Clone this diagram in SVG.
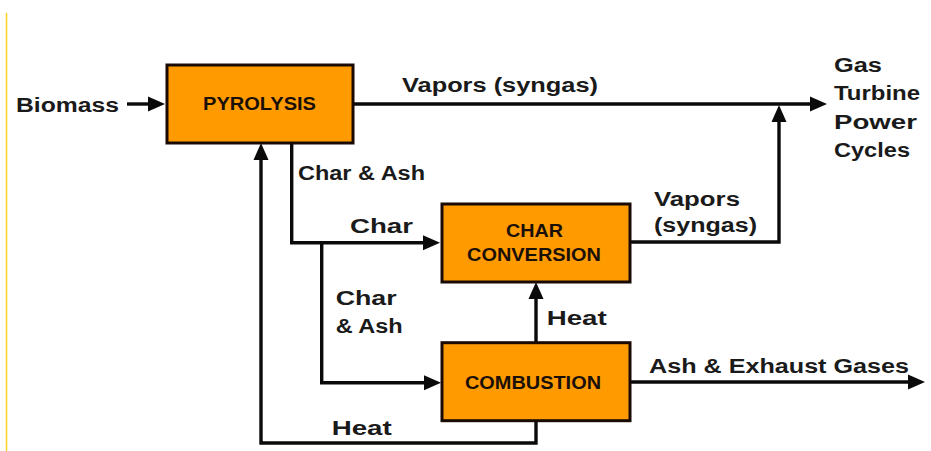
<svg xmlns="http://www.w3.org/2000/svg" width="931" height="451" viewBox="0 0 931 451">
  <style>
    .box { fill: #FF9A00; stroke: #1a0a05; stroke-width: 3; }
    .btxt { font-family: "Liberation Sans", Arial, sans-serif; font-weight: bold; font-size: 17.5px; fill: #1a1008; }
    .lbl { font-family: "Liberation Sans", Arial, sans-serif; font-weight: bold; font-size: 20px; fill: #1a1a1a; }
    .conn { fill: none; stroke: #0a0a0a; stroke-width: 3.4; }
  </style>
  <defs>
    <marker id="arr" markerUnits="userSpaceOnUse" markerWidth="20" markerHeight="16" refX="0" refY="8" orient="auto" overflow="visible">
      <path d="M0,0.5 L17,8 L0,15.5 z" fill="#0a0a0a"/>
    </marker>
  </defs>
  <rect width="931" height="451" fill="#ffffff"/>
  <line x1="6.5" y1="13" x2="6.5" y2="451" stroke="#FFD52E" stroke-width="1.6"/>

  <g id="connectors">
    <path class="conn" d="M127,104 H148" marker-end="url(#arr)"/>
    <path class="conn" d="M353,104 H810" marker-end="url(#arr)"/>
    <path class="conn" d="M291.7,143 V242.7 H423" marker-end="url(#arr)"/>
    <path class="conn" d="M321.7,242.7 V382.7 H424" marker-end="url(#arr)"/>
    <path class="conn" d="M630,242 H779 V122" marker-end="url(#arr)"/>
    <path class="conn" d="M536,342 V299" marker-end="url(#arr)"/>
    <path class="conn" d="M630,382 H908" marker-end="url(#arr)"/>
    <path class="conn" d="M536,421 V443 H261 V160" marker-end="url(#arr)"/>
  </g>

  <g id="labels">
    <text class="lbl" x="16" y="112" textLength="103" lengthAdjust="spacingAndGlyphs">Biomass</text>
    <text class="lbl" x="402" y="92" textLength="196" lengthAdjust="spacingAndGlyphs">Vapors (syngas)</text>
    <text class="lbl" x="834" y="72" textLength="48" lengthAdjust="spacingAndGlyphs">Gas</text>
    <text class="lbl" x="834" y="100" textLength="86" lengthAdjust="spacingAndGlyphs">Turbine</text>
    <text class="lbl" x="834" y="129" textLength="83" lengthAdjust="spacingAndGlyphs">Power</text>
    <text class="lbl" x="834" y="157" textLength="76" lengthAdjust="spacingAndGlyphs">Cycles</text>
    <text class="lbl" x="298" y="179.5" textLength="127" lengthAdjust="spacingAndGlyphs">Char &amp; Ash</text>
    <text class="lbl" x="350" y="232.5" textLength="63" lengthAdjust="spacingAndGlyphs">Char</text>
    <text class="lbl" x="654" y="205.5" textLength="86" lengthAdjust="spacingAndGlyphs">Vapors</text>
    <text class="lbl" x="654" y="232" textLength="103" lengthAdjust="spacingAndGlyphs">(syngas)</text>
    <text class="lbl" x="335.7" y="305" textLength="61" lengthAdjust="spacingAndGlyphs">Char</text>
    <text class="lbl" x="335.7" y="333" textLength="67" lengthAdjust="spacingAndGlyphs">&amp; Ash</text>
    <text class="lbl" x="546.7" y="325" textLength="60" lengthAdjust="spacingAndGlyphs">Heat</text>
    <text class="lbl" x="649" y="373.3" textLength="260" lengthAdjust="spacingAndGlyphs">Ash &amp; Exhaust Gases</text>
    <text class="lbl" x="331.7" y="435" textLength="60" lengthAdjust="spacingAndGlyphs">Heat</text>
  </g>

  <g id="pyrolysis">
    <rect class="box" x="167" y="65" width="186" height="78"/>
    <text class="btxt" x="203" y="109.5" textLength="113" lengthAdjust="spacingAndGlyphs">PYROLYSIS</text>
  </g>
  <g id="char-conversion">
    <rect class="box" x="442" y="204" width="188" height="78"/>
    <text class="btxt" x="506" y="237" textLength="57" lengthAdjust="spacingAndGlyphs">CHAR</text>
    <text class="btxt" x="467" y="261" textLength="134" lengthAdjust="spacingAndGlyphs">CONVERSION</text>
  </g>
  <g id="combustion">
    <rect class="box" x="442" y="342.7" width="188" height="78"/>
    <text class="btxt" x="465" y="388.5" textLength="136" lengthAdjust="spacingAndGlyphs">COMBUSTION</text>
  </g>
</svg>
